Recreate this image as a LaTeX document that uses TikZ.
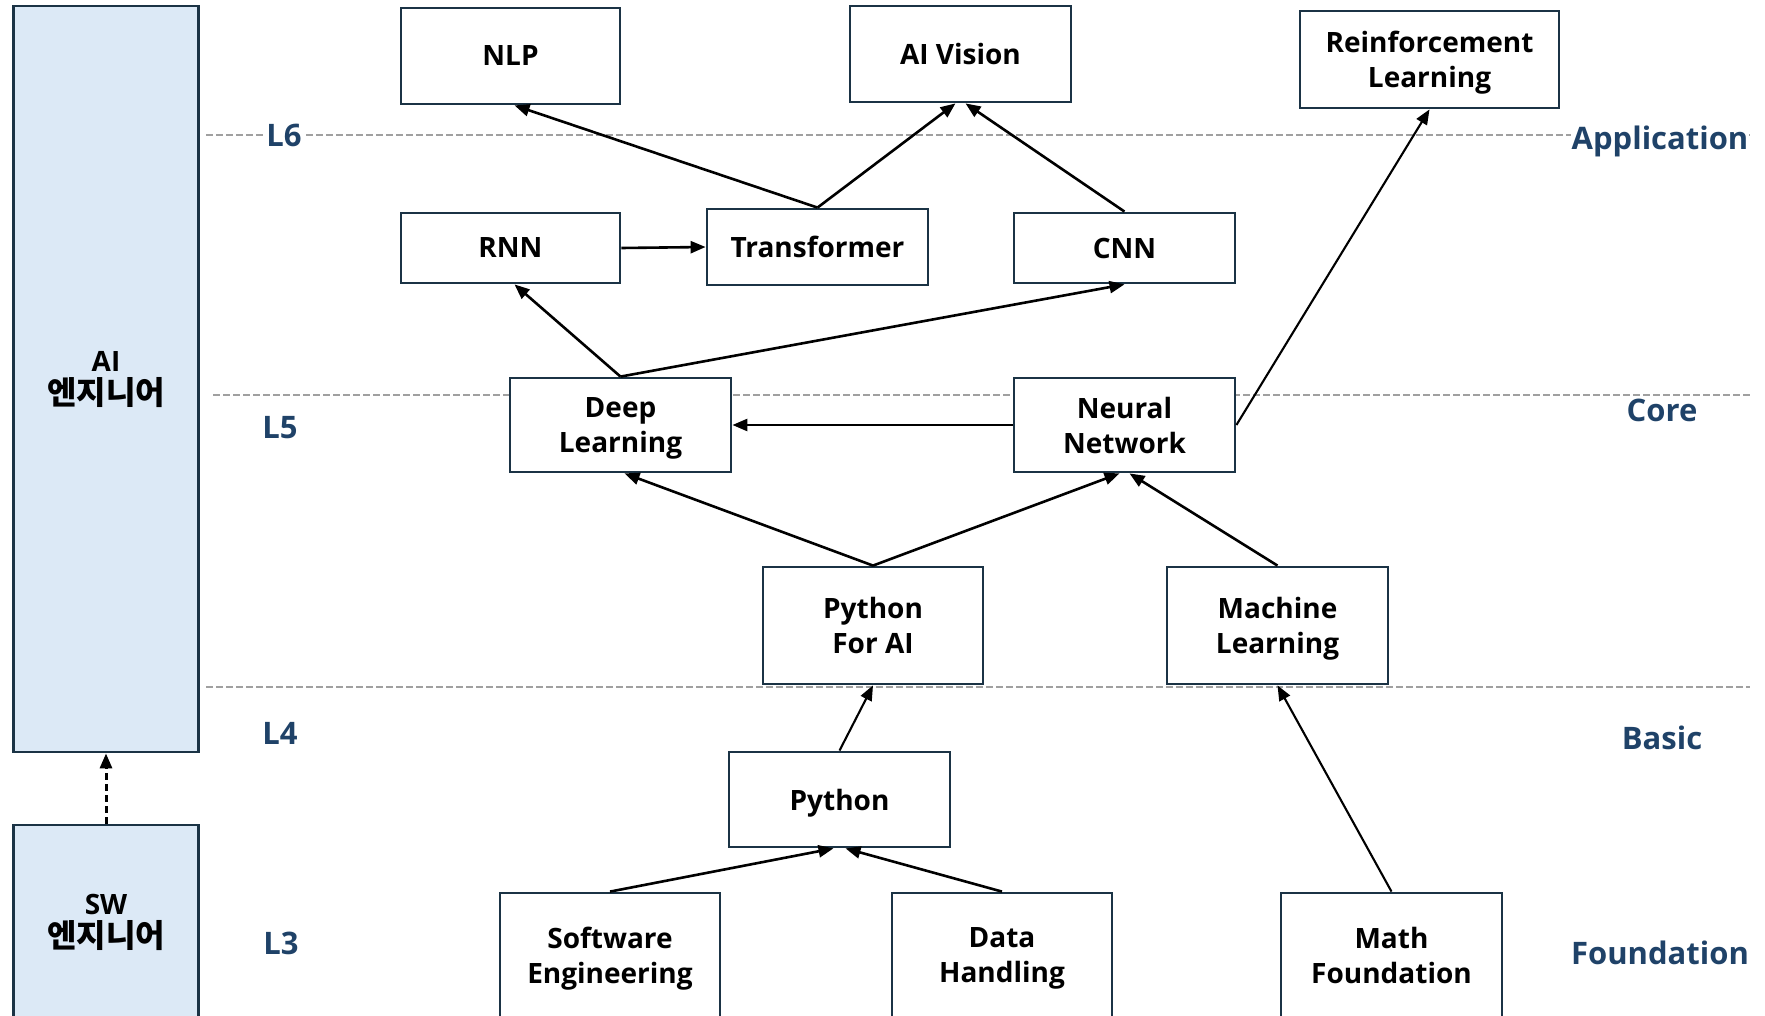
\documentclass[tikz,border=0pt]{standalone}
\usepackage{fontspec}
\setmainfont{Open Sans}
\newfontfamily\kr{Noto Sans CJK KR}
\usetikzlibrary{arrows.meta}
\definecolor{boxc}{HTML}{1B3345}
\definecolor{fillc}{HTML}{DCE9F6}
\definecolor{lblc}{HTML}{1F4268}
\definecolor{dashc}{HTML}{A0A0A0}
\begin{document}
\begin{tikzpicture}[x=1pt,y=-1pt,
  box/.style={draw=boxc, line width=2.8pt, fill=white, align=center,
    minimum width=219pt, minimum height=94pt, inner sep=0pt, text depth=0pt,
    font=\fontsize{28}{35}\selectfont\bfseries},
  side/.style={draw=boxc, line width=2.8pt, fill=fillc, minimum width=185pt, inner sep=0pt},
  sidetext/.style={font=\fontsize{28}{33}\selectfont\bfseries, align=center},
  lvl/.style={text=lblc, font=\fontsize{31}{36}\selectfont\bfseries},
  arr/.style={line width=2.6pt, -{Triangle[length=15pt,width=12pt]}},
  thin/.style={line width=2.1pt, -{Triangle[length=15pt,width=12pt]}},
  sep/.style={draw=dashc, line width=2.5pt, dash pattern=on 7pt off 3pt}]
\useasboundingbox (0,0) rectangle (1765,1016);
% dashed separators
\coordinate (d1a) at (206,135); \coordinate (d1b) at (1750,135);
\coordinate (d2a) at (213,395); \coordinate (d2b) at (1752,395);
\coordinate (d3a) at (206,687); \coordinate (d3b) at (1750,687);
\draw[sep] (d1a) -- (d1b);
\draw[sep] (d2a) -- (d2b);
\draw[sep] (d3a) -- (d3b);
% side boxes
\node[side, minimum height=746pt] (AI) at (106,379) {};
\node[side, minimum height=200pt] (SW) at (106,925) {};
\node[sidetext] (AIt) at (106,380) {AI\\{\kr\fontsize{32}{33}\selectfont 엔지니어}};
\node[sidetext] (SWt) at (106,922) {SW\\{\kr\fontsize{32}{33}\selectfont 엔지니어}};
\draw[line width=3pt, dash pattern=on 7pt off 4pt, -{Triangle[length=15pt,width=12pt]}] (SW.north) -- (AI.south);
% level labels
\node[lvl, fill=white, inner sep=1pt] (L6) at (284,135) {L6};
\node[lvl] (L5) at (280,428) {L5};
\node[lvl] (L4) at (280,733) {L4};
\node[lvl] (L3) at (281,943) {L3};
\node[lvl, fill=white, inner sep=1pt] (app) at (1660,141) {Application};
\node[lvl] (core) at (1662,410) {Core};
\node[lvl] (basic) at (1662,738) {Basic};
\node[lvl] (found) at (1660,953) {Foundation};
% boxes
\node[box, minimum height=96pt] (NLP) at (510.5,56) {NLP};
\node[box, minimum width=221pt, minimum height=96pt] (AIV) at (960.5,54) {AI Vision};
\node[box, minimum width=259pt, minimum height=97pt] (RL) at (1429.5,59.5) {Reinforcement\\Learning};
\node[box, minimum height=70pt] (RNN) at (510.5,248) {RNN};
\node[box, minimum width=221pt, minimum height=76pt] (TR) at (817.5,247) {Transformer};
\node[box, minimum width=221pt, minimum height=70pt] (CNN) at (1124.5,248) {CNN};
\node[box, minimum width=221pt] (DL) at (620.5,425) {Deep\\Learning};
\node[box, minimum width=221pt] (NN) at (1124.5,425) {Neural\\Network};
\node[box, minimum width=220pt, minimum height=117pt] (PAI) at (873,625.5) {Python\\For AI};
\node[box, minimum width=221pt, minimum height=117pt] (ML) at (1277.5,625.5) {Machine\\Learning};
\node[box, minimum width=221pt, minimum height=95pt] (PY) at (839.5,799.5) {Python};
\node[box, minimum width=220pt, minimum height=124pt] (SE) at (610,955) {Software\\Engineering};
\node[box, minimum width=220pt, minimum height=124pt] (DH) at (1002,955) {Data\\Handling};
\node[box, minimum width=221pt, minimum height=124pt] (MF) at (1391.5,955) {Math\\Foundation};
% connectors
\draw[arr] (TR.north) -- ([xshift=4pt]NLP.south);
\draw[arr] (TR.north) -- ([xshift=-5pt]AIV.south);
\draw[arr] (CNN.north) -- ([xshift=5pt]AIV.south);
\draw[arr] (RNN.east) -- (TR.west);
\draw[arr] (DL.north) -- ([xshift=4pt]RNN.south);
\draw[arr] (DL.north) -- (CNN.south);
\draw[arr] (NN.west) -- (DL.east);
\draw[thin] (NN.east) -- (RL.south);
\draw[arr] (PAI.north) -- ([xshift=4pt]DL.south);
\draw[arr] (PAI.north) -- ([xshift=-5pt]NN.south);
\draw[arr] (ML.north) -- ([xshift=5pt]NN.south);
\draw[thin] (PY.north) -- (PAI.south);
\draw[arr] (SE.north) -- ([xshift=-6pt]PY.south);
\draw[arr] (DH.north) -- ([xshift=6pt]PY.south);
\draw[thin] (MF.north) -- (ML.south);
\end{tikzpicture}
\end{document}
